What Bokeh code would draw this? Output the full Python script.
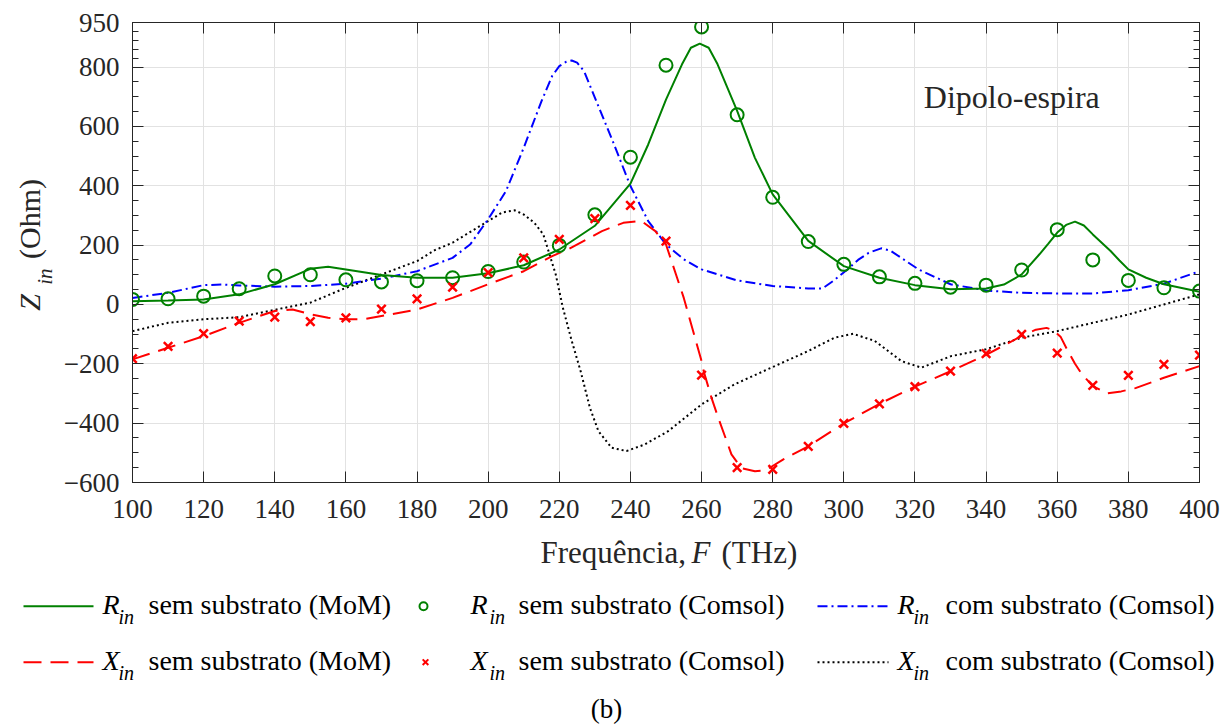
import math
from bokeh.plotting import figure
from bokeh.layouts import column, row
from bokeh.models import Range1d, FixedTicker, LinearAxis, Label, CustomJSTickFormatter
from bokeh.core.properties import value
from bokeh.embed import file_html
from bokeh.resources import INLINE

# ---------------- data ----------------
# R_in sem substrato (MoM) - solid green
f_r_mom = [100, 110, 120, 130, 140, 150, 155, 160, 170, 180, 190, 200, 210, 220, 230, 240, 245,
           250, 254.5, 257, 259.5, 262, 264.5, 270, 275, 280, 290, 300, 310, 320, 330, 340, 345,
           350, 355, 357.5, 360, 362.5, 365, 367.5, 370, 372.5, 375, 377.5, 380, 385, 390, 400]
r_mom = [11, 13, 17, 34, 68, 120, 127, 118, 99, 90, 90, 105, 132, 185, 265, 407, 539,
         690, 809, 865, 879, 865, 809, 652, 494, 371, 214, 129, 90, 65, 51, 54, 67,
         101, 169, 205, 242, 268, 279, 266, 236, 208, 180, 148, 118, 90, 68, 43]

# X_in sem substrato (MoM) - dashed red
f_x_mom = [100, 110, 120, 130, 140, 145, 150, 155, 160, 165, 170, 180, 190, 200, 210, 218, 222.5,
           232, 238, 243, 247, 250, 255, 260, 260.6, 262.8, 264.7, 268.4, 271.2, 275, 278, 283,
           290, 300, 310, 320, 330, 340, 350, 354, 357, 359, 361, 363, 365, 367, 370, 374, 378,
           382, 390, 400]
x_mom = [-185, -146, -107, -62, -22, -17, -33, -45, -50, -50, -39, -17, 22, 68, 112, 163, 186,
         247, 275, 282, 247, 202, 22, -191, -225, -315, -382, -505, -552, -562, -559, -522,
         -478, -401, -335, -277, -225, -170, -106, -85, -79, -88, -110, -157, -200, -236, -275,
         -300, -293, -282, -247, -208]

# Comsol sem substrato - markers
f_comsol = [100, 110, 120, 130, 140, 150, 160, 170, 180, 190, 200, 210, 220, 230, 240, 250,
            260, 270, 280, 290, 300, 310, 320, 330, 340, 350, 360, 370, 380, 390, 400]
r_comsol = [17, 19, 28, 53, 96, 100, 83, 76, 80, 90, 111, 143, 199, 302, 496, 806,
            935, 639, 361, 212, 135, 93, 71, 58, 65, 116, 252, 150, 81, 56, 45]
x_comsol = [-183, -141, -98, -56, -43, -58, -45, -16, 19, 58, 107, 157, 219, 289, 334, 213,
            -238, -550, -556, -478, -401, -335, -277, -225, -166, -101, -164, -273, -239, -202, -171]

# R_in com substrato (Comsol) - blue dash-dot
f_r_sub = [100, 110, 120, 125, 130, 140, 150, 160, 170, 180, 190, 195, 200, 205, 210, 215, 218,
           220, 222, 223.5, 225, 227, 230, 235, 240, 245, 250, 255, 260, 270, 280, 290, 294, 297,
           301, 304, 307, 310.5, 313, 316, 321, 330, 340, 350, 360, 370, 380, 390, 400]
r_sub = [22, 39, 65, 67, 64, 60, 62, 70, 87, 112, 157, 203, 287, 382, 528, 685, 770,
         803, 818, 822, 815, 785, 697, 551, 399, 281, 202, 152, 118, 81, 62, 54, 54, 79,
         118, 150, 174, 189, 182, 158, 118, 68, 47, 39, 37, 37, 48, 70, 112]

# X_in com substrato (Comsol) - black dotted
f_x_sub = [100, 110, 120, 130, 140, 150, 160, 170, 180, 185, 190, 200, 204, 207.5, 210, 213,
           215.5, 219, 221, 223.5, 226, 228.6, 231, 234.7, 238.9, 244, 250.6, 260, 269.3, 279.6,
           290, 297.4, 302.6, 308.7, 316.2, 321.8, 330.2, 340, 350, 360, 370, 380, 390, 400]
x_sub = [-90, -62, -50, -43, -18, 6, 56, 101, 146, 183, 208, 281, 310, 317, 303, 275,
         236, 101, -11, -123, -225, -348, -427, -483, -494, -472, -427, -337, -269, -213,
         -157, -112, -99, -123, -191, -213, -174, -151, -112, -90, -62, -34, 0, 34]

x_ticks = [100, 120, 140, 160, 180, 200, 220, 240, 260, 280, 300, 320, 340, 360, 380, 400]
y_ticks = [-600, -400, -200, 0, 200, 400, 600, 800, 950]
y_minor = [-550, -500, -450, -350, -300, -250, -150, -100, -50, 50, 100, 150, 250, 300, 350,
           450, 500, 550, 650, 700, 750, 830, 860, 890, 920]

# ---------------- style ----------------
FONT = "Liberation Serif"
AX = "#262626"
GREEN = "#008000"
BLUE = "#0000ff"
RED = "#ff0000"
BLACK = "#000000"

TOP_H = 534           # height of the plot row
BOT_H = 726 - TOP_H   # height of the legend strip

# ---------------- main plot ----------------
p = figure(width=1172, height=TOP_H, x_range=Range1d(100, 400), y_range=Range1d(-600, 950),
           output_backend="svg", toolbar_location=None,
           min_border_left=71, min_border_right=33, min_border_top=22,
           min_border_bottom=TOP_H - 482)
p.background_fill_color = "white"
p.border_fill_color = "white"
p.outline_line_color = AX
p.outline_line_width = 1

bottom_ax = p.below[0]
left_ax = p.left[0]

xt = FixedTicker(ticks=x_ticks, minor_ticks=[])
yt = FixedTicker(ticks=y_ticks, minor_ticks=y_minor)
bottom_ax.ticker = xt
left_ax.ticker = yt
p.xgrid.ticker = xt
p.ygrid.ticker = yt
p.grid.grid_line_color = "#e2e2e2"
p.grid.grid_line_width = 1

top_ax = LinearAxis(ticker=xt, formatter=CustomJSTickFormatter(code="return ''"))
right_ax = LinearAxis(ticker=yt, formatter=CustomJSTickFormatter(code="return ''"))
p.add_layout(top_ax, "above")
p.add_layout(right_ax, "right")

for ax in [bottom_ax, left_ax, top_ax, right_ax]:
    ax.axis_line_color = AX
    ax.axis_line_width = 1
    ax.major_tick_line_color = AX
    ax.minor_tick_line_color = AX
    ax.major_tick_in = 11
    ax.major_tick_out = 0
    ax.minor_tick_in = 6
    ax.minor_tick_out = 0
    ax.major_label_text_font = FONT
    ax.major_label_text_font_size = "27px"
    ax.major_label_text_color = AX
for ax in [top_ax, right_ax]:
    ax.major_label_standoff = 0
    ax.major_label_text_font_size = "1px"
bottom_ax.major_label_standoff = 17
left_ax.major_label_standoff = 13

p.line(f_x_sub, x_sub, line_color=BLACK, line_width=2, line_dash="2 3")
p.line(f_r_sub, r_sub, line_color=BLUE, line_width=2, line_dash="10 4 2 4")
p.line(f_x_mom, x_mom, line_color=RED, line_width=2, line_dash="18 9")
p.line(f_r_mom, r_mom, line_color=GREEN, line_width=2)
p.scatter(f_comsol, r_comsol, marker="circle", size=13, fill_color=None,
          line_color=GREEN, line_width=2)
p.scatter(f_comsol, x_comsol, marker="x", size=12, line_color=RED, line_width=2.5)

p.add_layout(Label(x=322.5, y=699, text="Dipolo-espira", text_font=FONT,
                   text_font_size="32px", text_color=AX,
                   text_align="left", text_baseline="middle"))

# ---------------- y label (left strip) ----------------
yl = figure(width=60, height=TOP_H, x_range=Range1d(0, 60), y_range=Range1d(TOP_H, 0),
            output_backend="svg", toolbar_location=None,
            x_axis_location=None, y_axis_location=None, min_border=0)
yl.outline_line_color = None
yl.grid.visible = False

def ytxt(x, y, t, size, italic=False):
    yl.text(x=[x], y=[y], text=[t], angle=math.pi / 2, text_font=value(FONT),
            text_font_style="italic" if italic else "normal",
            text_font_size=size, text_color=AX,
            text_align="center", text_baseline="middle")

ytxt(29, 325, "Z", "30px", italic=True)
ytxt(44, 295, "in", "21px", italic=True)
ytxt(29, 228, "(Ohm)", "30px")

# ---------------- bottom strip: x label, legend, caption ----------------
lg = figure(width=1232, height=BOT_H, x_range=Range1d(0, 1232), y_range=Range1d(726, TOP_H),
            output_backend="svg", toolbar_location=None,
            x_axis_location=None, y_axis_location=None, min_border=0)
lg.outline_line_color = None
lg.grid.visible = False

def txt(xs, ys, texts, size, italic=False, color=AX, align="left"):
    lg.text(x=xs, y=ys, text=texts, text_font=value(FONT),
            text_font_style="italic" if italic else "normal",
            text_font_size=size, text_color=color,
            text_align=align, text_baseline="middle")

# x axis label
txt([540], [552], ["Frequência,"], "31px")
txt([691], [552], ["F"], "31px", italic=True)
txt([721], [552], ["(THz)"], "31px")

legend_labels = [
    ("R", "sem substrato (MoM)"),
    ("R", "sem substrato (Comsol)"),
    ("R", "com substrato (Comsol)"),
    ("X", "sem substrato (MoM)"),
    ("X", "sem substrato (Comsol)"),
    ("X", "com substrato (Comsol)"),
]
col_sym = [102, 470, 897]
col_sub = [118, 489, 913]
col_rest = [148, 518, 945]
row_mid = [603.5, 659.5]
for i, (sym, rest) in enumerate(legend_labels):
    r, c = divmod(i, 3)
    txt([col_sym[c]], [row_mid[r]], [sym], "28px", italic=True, color=BLACK)
    txt([col_sub[c]], [row_mid[r] + 13], ["in"], "20px", italic=True, color=BLACK)
    txt([col_rest[c]], [row_mid[r]], [rest], "28px", color=BLACK)

row_line = [605.7, 661.7]
lg.line([23, 93], [row_line[0]] * 2, line_color=GREEN, line_width=2)
lg.line([23, 93], [row_line[1]] * 2, line_color=RED, line_width=2, line_dash="18 9")
lg.line([817, 888], [row_line[0]] * 2, line_color=BLUE, line_width=2, line_dash="10 4 2 4")
lg.line([817, 888], [row_line[1]] * 2, line_color=BLACK, line_width=2, line_dash="2 3")
lg.scatter([423], [row_line[0]], marker="circle", size=8, fill_color=None,
           line_color=GREEN, line_width=2)
lg.scatter([425], [row_line[1]], marker="x", size=8, line_color=RED, line_width=2)

txt([606], [708], ["(b)"], "27px", align="center", color=BLACK)

layout = column(row(yl, p), lg)
open("out.html", "w").write(file_html(layout, INLINE))
